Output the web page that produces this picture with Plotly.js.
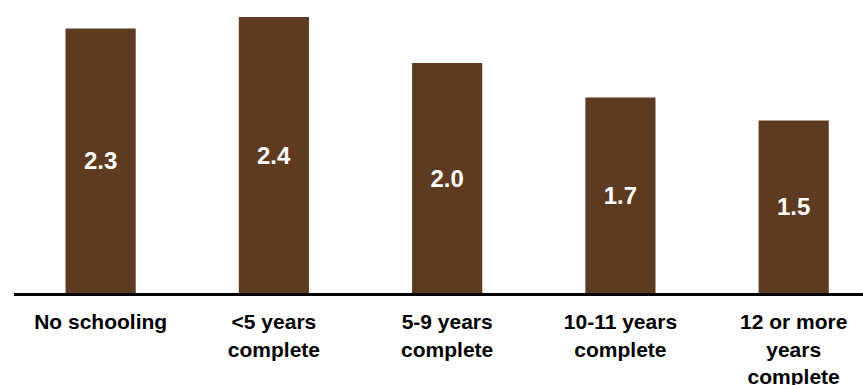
<!DOCTYPE html>
<html>
<head>
<meta charset="utf-8">
<script src="https://cdn.plot.ly/plotly-3.0.1.min.js"></script>
<style>
  html, body { margin: 0; padding: 0; background: #ffffff; overflow: hidden; }
  #chart { width: 863px; height: 385px; }
</style>
</head>
<body>
<div id="chart"></div>
<script>
// Schooling categories and the value for each group
const categories = ['No schooling', '<5 years<br>complete', '5-9 years<br>complete', '10-11 years<br>complete', '12 or more<br>years<br>complete'];
const values = [2.3, 2.4, 2.0, 1.7, 1.5];

const barColor = 'rgb(94,58,32)';
const fontFamily = 'Liberation Sans, Arial, sans-serif';

const trace = {
  type: 'bar',
  x: categories,
  y: values,
  width: 0.405,
  marker: { color: barColor, line: { width: 0 } },
  texttemplate: '%{y:.1f}',
  textposition: 'inside',
  insidetextanchor: 'middle',
  textangle: 0,
  textfont: { family: fontFamily, size: 24, color: '#ffffff', weight: 'bold' },
  hoverinfo: 'skip'
};

const layout = {
  width: 863,
  height: 385,
  margin: { l: 14, r: 0, t: 0, b: 92 },
  paper_bgcolor: '#ffffff',
  plot_bgcolor: '#ffffff',
  showlegend: false,
  xaxis: {
    type: 'category',
    range: [-0.5, 4.4],
    showline: true,
    linecolor: '#000000',
    linewidth: 3,
    ticks: '',
    showgrid: false,
    zeroline: false,
    tickfont: { family: fontFamily, size: 21, color: '#000000', weight: 'bold' },
    ticklabelstandoff: 8,
    tickangle: 0
  },
  yaxis: {
    range: [0, 2.548],
    visible: false,
    showgrid: false,
    zeroline: false
  }
};

Plotly.newPlot('chart', [trace], layout, { staticPlot: true, displayModeBar: false });
</script>
</body>
</html>
